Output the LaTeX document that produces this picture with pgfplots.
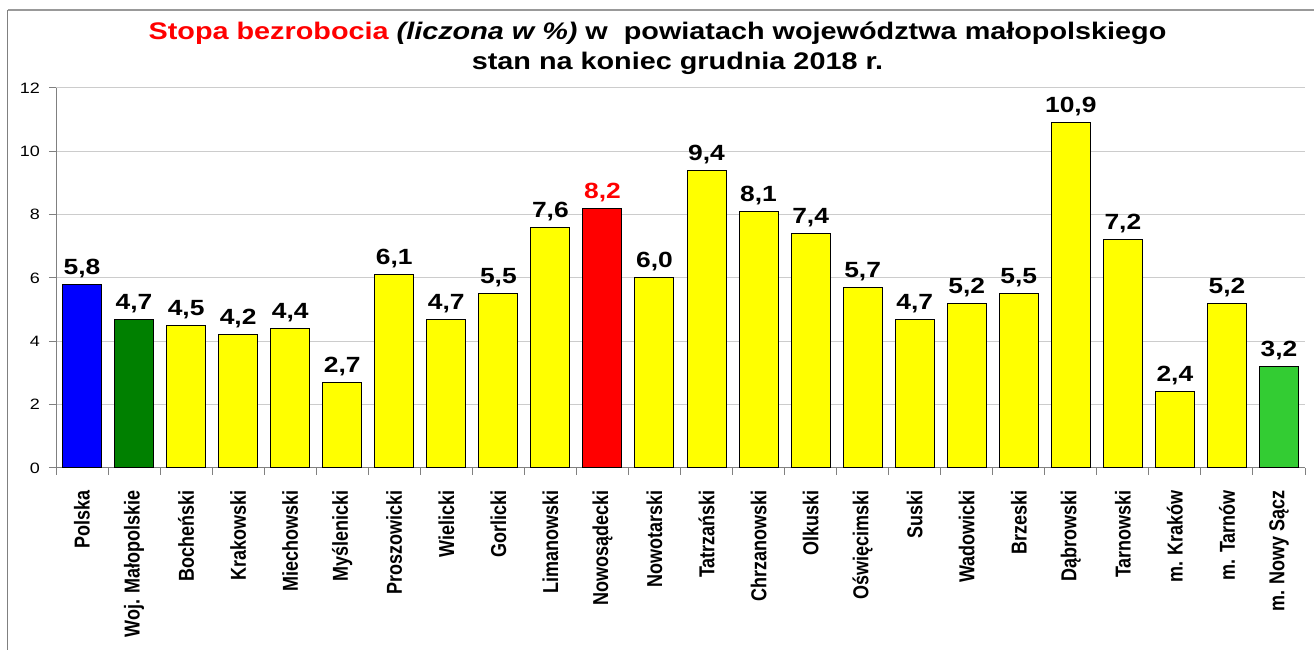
\documentclass[border=0pt]{standalone}
\usepackage{fontspec}
\setmainfont{Liberation Sans}
\newfontfamily\widefont{Liberation Sans}[FakeStretch=1.2]
\usepackage{pgfplots}
\pgfplotsset{compat=1.18}
\definecolor{cyellow}{RGB}{255,255,0}
\definecolor{cblue}{RGB}{0,0,255}
\definecolor{cdkgreen}{RGB}{0,128,0}
\definecolor{cred}{RGB}{255,0,0}
\definecolor{clgreen}{RGB}{51,204,51}
\begin{document}
\begin{tikzpicture}
\useasboundingbox (0,0) rectangle (1314pt,650pt);
\draw[color=black!50, line width=1.5pt] (7.5pt,0pt) -- (7.5pt,640pt);
\draw[color=black!40, line width=2pt] (7.5pt,640pt) -- (1314pt,640pt);
\begin{axis}[
  at={(56pt,182pt)}, anchor=south west,
  scale only axis, width=1249pt, height=380pt,
  xmin=-0.5, xmax=23.5, ymin=0, ymax=12,
  ytick={0,2,...,12},
  xtick={0,...,23},
  xticklabels={Polska,Woj. Małopolskie,Bocheński,Krakowski,Miechowski,Myślenicki,Proszowicki,Wielicki,Gorlicki,Limanowski,Nowosądecki,Nowotarski,Tatrzański,Chrzanowski,Olkuski,Oświęcimski,Suski,Wadowicki,Brzeski,Dąbrowski,Tarnowski,m. Kraków,m. Tarnów,m. Nowy Sącz},
  x tick label style={yshift=-15pt, rotate=90, anchor=east, yscale=1.2, font=\bfseries\fontsize{18}{21}\selectfont, inner sep=0pt},
  y tick label style={font=\widefont\fontsize{15}{17}\selectfont, inner sep=0pt, xshift=-9pt},
  /pgf/number format/assume math mode=true,
  major x tick style={draw=none},
  minor xtick={-0.5,0.5,...,23.5},
  tick align=outside, major tick length=7pt, minor tick length=7pt,
  tick style={draw=black!50, line width=1pt},
  axis x line*=bottom, axis y line*=left,
  axis line style={draw=black!50, line width=1pt, -},
  ymajorgrids, grid style={draw=black!20, line width=1pt},
  ybar, bar width=39pt, bar shift=0pt,
  nodes near coords={\pgfmathprintnumber[fixed,fixed zerofill,precision=1,use comma]{\pgfplotspointmeta}},
  every node near coord/.append style={font=\widefont\bfseries\fontsize{22}{26}\selectfont, anchor=base, yshift=10pt, black},
  title={\textcolor{cred}{Stopa bezrobocia} \textit{(liczona w \%)} w\ \ powiatach województwa małopolskiego\hspace*{40pt}\\stan na koniec grudnia 2018 r.},
  title style={font=\widefont\bfseries\fontsize{24}{30}\selectfont, align=center, at={(0.5,1)}, anchor=south, inner sep=0pt, yshift=7pt, xshift=-3pt},
]
\addplot[fill=cblue, draw=black, line width=1pt] coordinates {(0,5.8)};
\addplot[fill=cdkgreen, draw=black, line width=1pt] coordinates {(1,4.7)};
\addplot[fill=cyellow, draw=black, line width=1pt] coordinates {(2,4.5)(3,4.2)(4,4.4)(5,2.7)(6,6.1)(7,4.7)(8,5.5)(9,7.6)(11,6.0)(12,9.4)(13,8.1)(14,7.4)(15,5.7)(16,4.7)(17,5.2)(18,5.5)(19,10.9)(20,7.2)(21,2.4)(22,5.2)};
\addplot[fill=cred, draw=black, line width=1pt, every node near coord/.append style={cred}] coordinates {(10,8.2)};
\addplot[fill=clgreen, draw=black, line width=1pt] coordinates {(23,3.2)};
\end{axis}
\end{tikzpicture}
\end{document}
